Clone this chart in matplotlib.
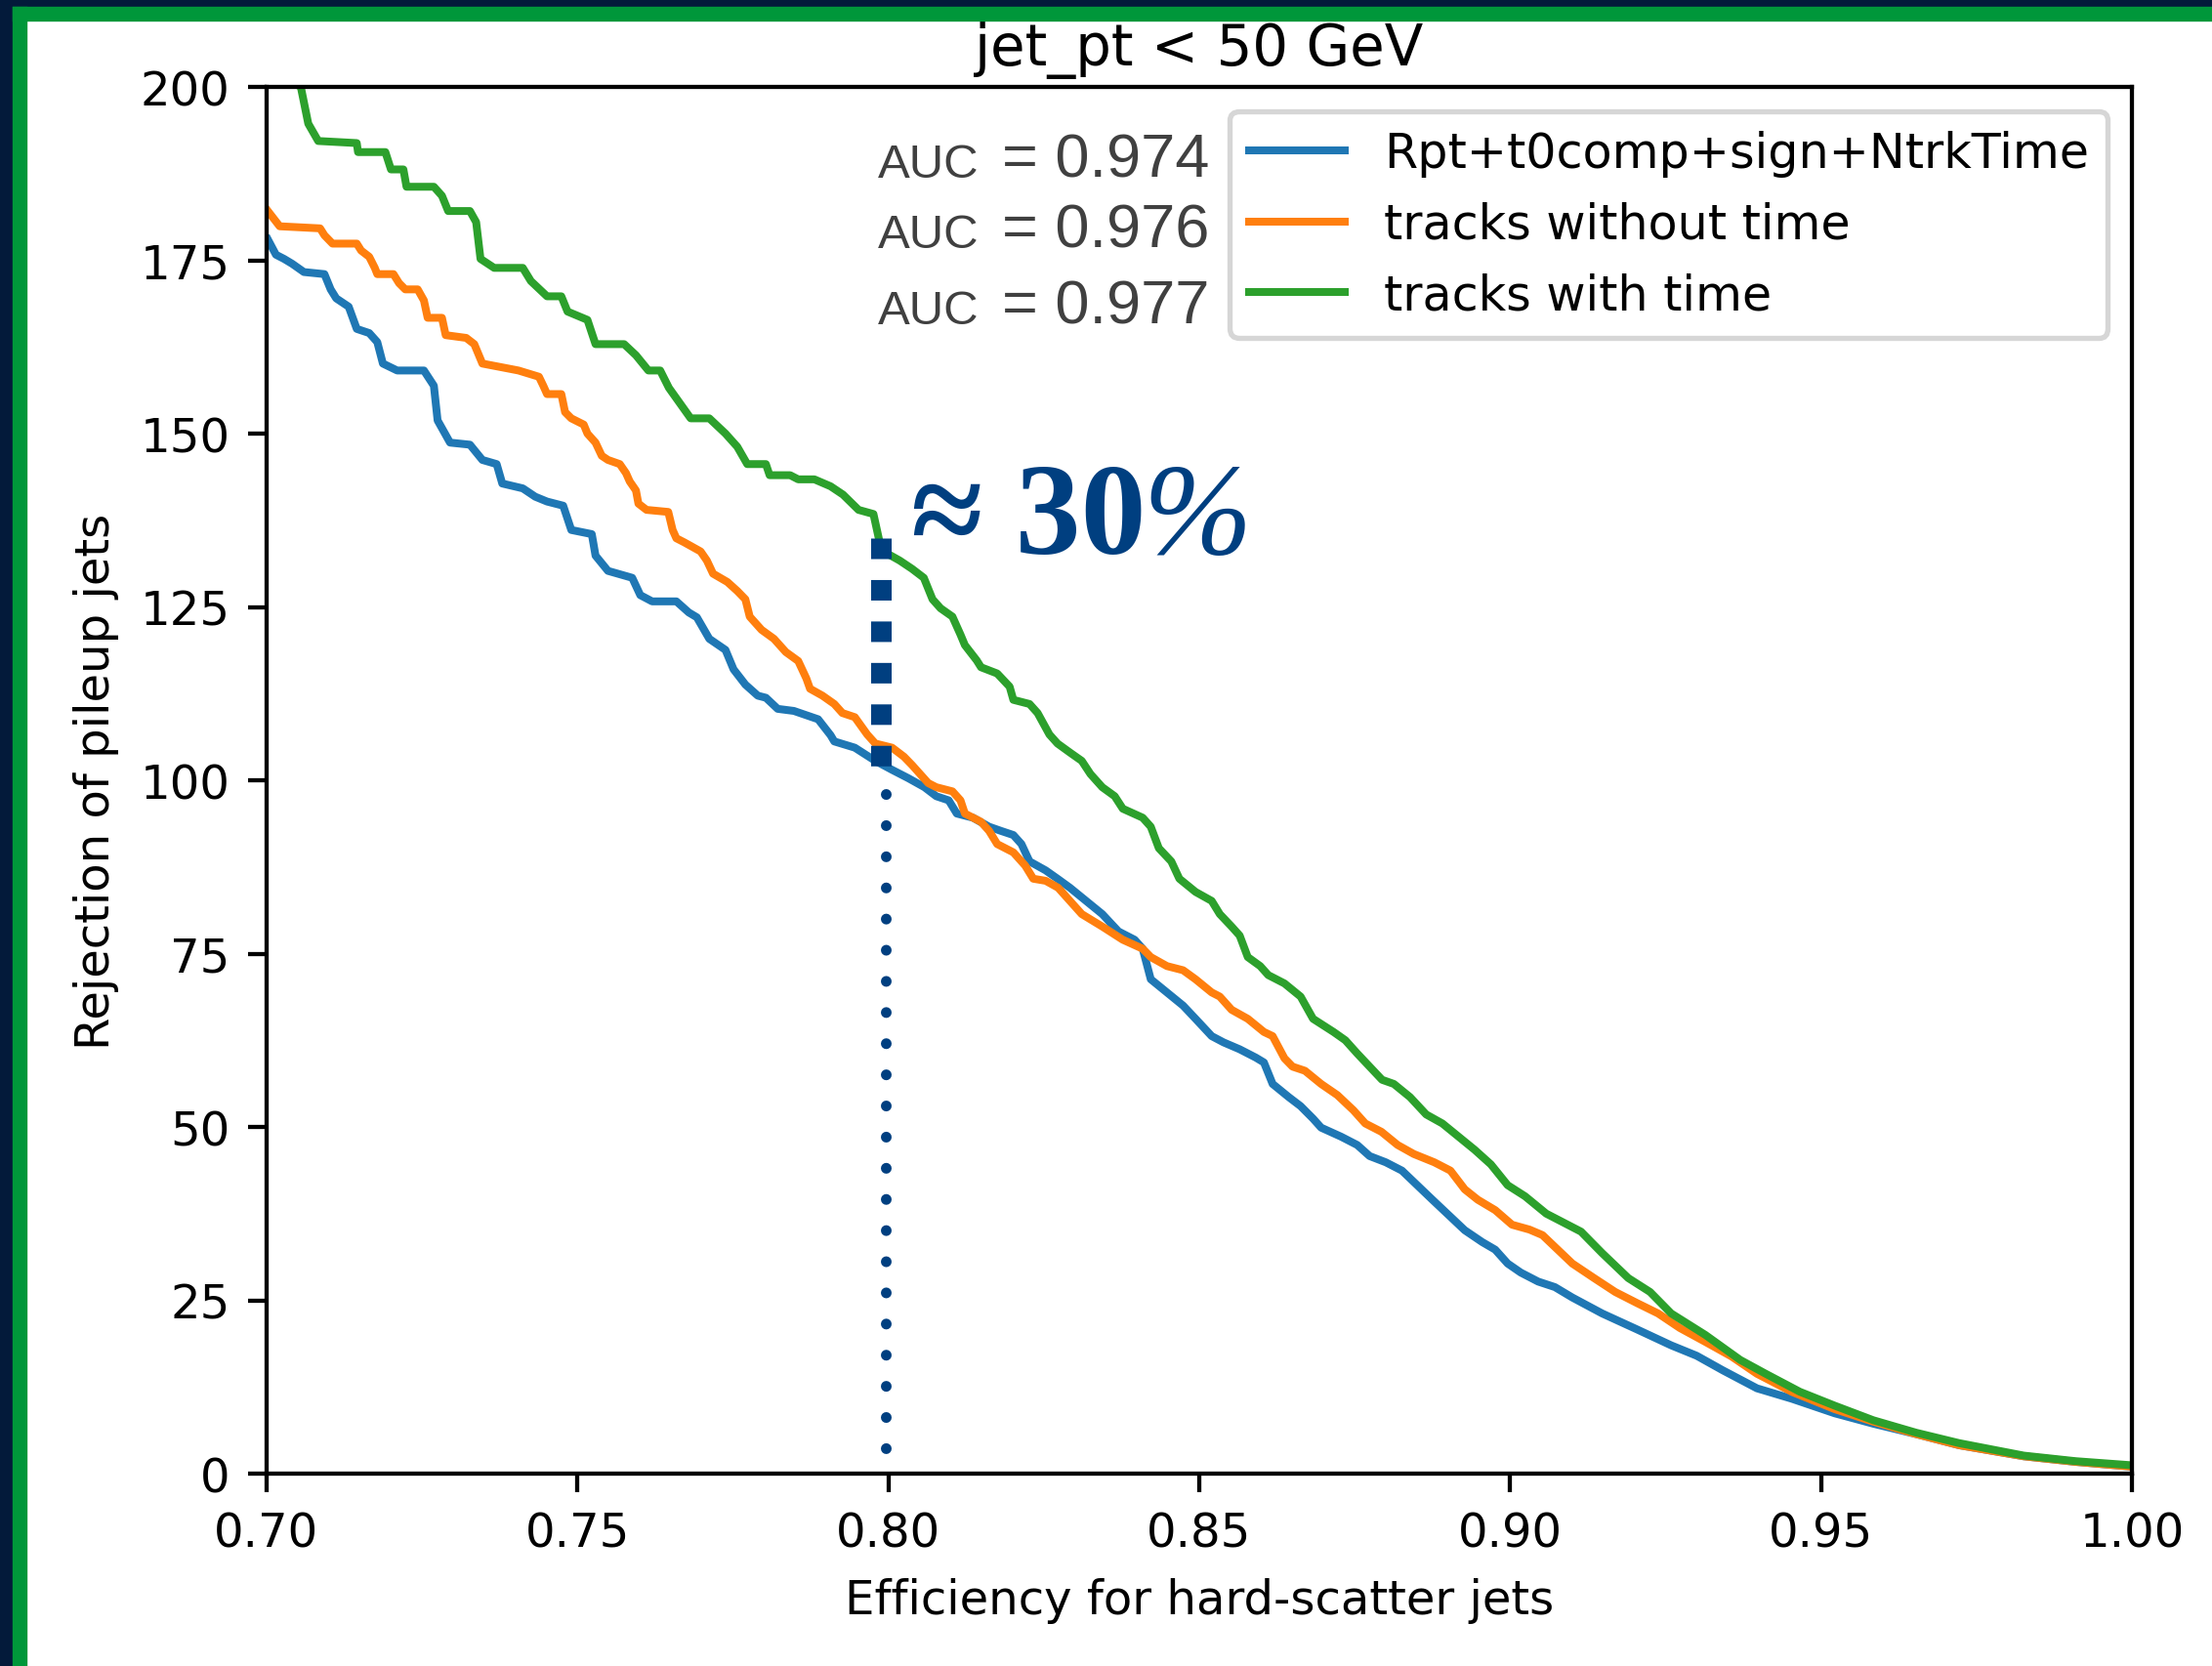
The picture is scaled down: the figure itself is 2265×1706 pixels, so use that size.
import matplotlib
matplotlib.use("Agg")
import matplotlib.pyplot as plt
from matplotlib.patches import Rectangle

# --- data ---
eff_blue = [0.7002, 0.7015, 0.7028, 0.7041, 0.7060, 0.7093, 0.7103, 0.7112, 0.7132, 0.7145,
            0.7165, 0.7178, 0.7187, 0.7210, 0.7253, 0.7269, 0.7275, 0.7295, 0.7327, 0.7347,
            0.7370, 0.7379, 0.7412, 0.7432, 0.7451, 0.7477, 0.7490, 0.7523, 0.7529, 0.7549,
            0.7588, 0.7601, 0.7620, 0.7659, 0.7679, 0.7692, 0.7712, 0.7738, 0.7751, 0.7770,
            0.7790, 0.7803, 0.7822, 0.7848, 0.7887, 0.7907, 0.7913, 0.7946, 0.7979, 0.8006,
            0.8032, 0.8058, 0.8077, 0.8097, 0.8110, 0.8136, 0.8162, 0.8181, 0.8201, 0.8214,
            0.8227, 0.8253, 0.8272, 0.8292, 0.8318, 0.8344, 0.8370, 0.8396, 0.8409, 0.8422,
            0.8448, 0.8474, 0.8494, 0.8520, 0.8539, 0.8565, 0.8591, 0.8604, 0.8618, 0.8644,
            0.8663, 0.8683, 0.8696, 0.8728, 0.8754, 0.8774, 0.8800, 0.8826, 0.8875, 0.8927,
            0.8955, 0.8976, 0.8996, 0.9017, 0.9045, 0.9072, 0.9100, 0.9148, 0.9204, 0.9259,
            0.9300, 0.9342, 0.9397, 0.9453, 0.9522, 0.9584, 0.9653, 0.9722, 0.9826, 0.9909,
            1.0000]
rej_blue = [178.0, 175.8, 175.2, 174.5, 173.3, 173.0, 170.8, 169.5, 168.3, 165.1,
            164.5, 163.2, 160.1, 159.1, 159.1, 156.9, 151.9, 148.7, 148.4, 146.2,
            145.6, 142.8, 142.1, 140.9, 140.2, 139.6, 136.1, 135.5, 132.4, 130.2,
            129.2, 126.7, 125.8, 125.8, 124.2, 123.5, 120.4, 118.8, 116.0, 113.8,
            112.2, 111.9, 110.3, 110.0, 108.8, 106.5, 105.6, 104.7, 102.8, 101.5,
            100.3, 99.0, 97.7, 97.1, 95.2, 94.6, 93.3, 92.7, 92.1, 90.8,
            88.3, 87.0, 85.8, 84.5, 82.6, 80.7, 78.2, 77.0, 75.7, 71.3,
            69.4, 67.5, 65.6, 63.1, 62.2, 61.2, 60.0, 59.3, 56.2, 54.3,
            53.0, 51.2, 49.9, 48.6, 47.4, 45.8, 44.9, 43.7, 39.5, 35.1,
            33.4, 32.3, 30.3, 29.0, 27.7, 26.9, 25.4, 23.1, 20.8, 18.5,
            17.0, 14.9, 12.3, 10.8, 8.7, 7.2, 5.7, 4.1, 2.5, 1.7,
            1.0]

eff_orange = [0.7002, 0.7021, 0.7086, 0.7093, 0.7106, 0.7145, 0.7152, 0.7165, 0.7174, 0.7178,
              0.7204, 0.7213, 0.7223, 0.7243, 0.7253, 0.7259, 0.7282, 0.7288, 0.7321, 0.7334,
              0.7347, 0.7405, 0.7438, 0.7445, 0.7451, 0.7474, 0.7480, 0.7490, 0.7510, 0.7516,
              0.7529, 0.7539, 0.7549, 0.7568, 0.7578, 0.7584, 0.7594, 0.7598, 0.7611, 0.7646,
              0.7653, 0.7659, 0.7672, 0.7698, 0.7708, 0.7718, 0.7741, 0.7757, 0.7770, 0.7777,
              0.7796, 0.7816, 0.7835, 0.7855, 0.7868, 0.7874, 0.7894, 0.7913, 0.7926, 0.7946,
              0.7966, 0.7979, 0.8006, 0.8025, 0.8038, 0.8064, 0.8077, 0.8103, 0.8116, 0.8123,
              0.8149, 0.8162, 0.8175, 0.8201, 0.8220, 0.8233, 0.8253, 0.8273, 0.8292, 0.8311,
              0.8344, 0.8377, 0.8409, 0.8422, 0.8448, 0.8474, 0.8494, 0.8520, 0.8533, 0.8552,
              0.8578, 0.8604, 0.8618, 0.8637, 0.8650, 0.8670, 0.8696, 0.8722, 0.8748, 0.8767,
              0.8793, 0.8819, 0.8845, 0.8878, 0.8904, 0.8927, 0.8948, 0.8976, 0.9003, 0.9031,
              0.9052, 0.9100, 0.9135, 0.9169, 0.9204, 0.9238, 0.9273, 0.9314, 0.9356, 0.9397,
              0.9453, 0.9522, 0.9584, 0.9653, 0.9722, 0.9826, 0.9909, 1.0000]
rej_orange = [182.1, 179.9, 179.6, 178.6, 177.4, 177.4, 176.4, 175.5, 173.9, 173.0,
              173.0, 171.7, 170.8, 170.8, 169.2, 166.7, 166.7, 164.2, 163.8, 162.9,
              160.1, 159.1, 158.2, 156.9, 155.7, 155.7, 153.1, 152.2, 151.3, 150.0,
              148.7, 146.8, 146.2, 145.6, 144.3, 143.1, 141.8, 139.9, 139.0, 138.7,
              136.1, 134.9, 134.3, 133.0, 131.7, 129.8, 128.6, 127.3, 126.1, 123.6,
              121.7, 120.4, 118.5, 117.2, 114.7, 113.2, 112.2, 111.0, 109.7, 109.1,
              106.6, 105.3, 104.7, 103.4, 102.2, 99.6, 99.0, 98.4, 97.1, 95.2,
              94.0, 92.7, 90.8, 89.6, 87.7, 85.8, 85.5, 84.5, 82.6, 80.7,
              78.9, 77.0, 75.7, 74.5, 73.2, 72.6, 71.3, 69.4, 68.8, 66.9,
              65.6, 63.7, 63.1, 59.9, 58.7, 58.1, 56.2, 54.6, 52.4, 50.5,
              49.3, 47.4, 46.1, 44.9, 43.7, 41.0, 39.5, 38.0, 35.9, 35.2,
              34.4, 30.3, 28.2, 26.2, 24.6, 23.1, 21.0, 19.0, 16.9, 14.4,
              11.8, 9.3, 7.5, 5.7, 4.1, 2.5, 1.7, 1.0]

eff_green = [0.7000, 0.7055, 0.7067, 0.7083, 0.7145, 0.7147, 0.7191, 0.7200, 0.7220, 0.7225,
             0.7269, 0.7282, 0.7292, 0.7327, 0.7337, 0.7344, 0.7366, 0.7412, 0.7425, 0.7451,
             0.7474, 0.7484, 0.7516, 0.7529, 0.7575, 0.7594, 0.7614, 0.7633, 0.7647, 0.7682,
             0.7712, 0.7738, 0.7757, 0.7773, 0.7803, 0.7809, 0.7842, 0.7855, 0.7881, 0.7907,
             0.7927, 0.7952, 0.7976, 0.7986, 0.7992, 0.8018, 0.8038, 0.8057, 0.8071, 0.8084,
             0.8103, 0.8116, 0.8123, 0.8142, 0.8149, 0.8175, 0.8195, 0.8201, 0.8227, 0.8240,
             0.8259, 0.8272, 0.8292, 0.8311, 0.8325, 0.8344, 0.8364, 0.8377, 0.8409, 0.8422,
             0.8435, 0.8455, 0.8468, 0.8494, 0.8520, 0.8533, 0.8552, 0.8565, 0.8578, 0.8598,
             0.8611, 0.8637, 0.8663, 0.8683, 0.8716, 0.8735, 0.8754, 0.8774, 0.8794, 0.8813,
             0.8839, 0.8865, 0.8891, 0.8917, 0.8943, 0.8969, 0.8996, 0.9024, 0.9058, 0.9114,
             0.9148, 0.9190, 0.9225, 0.9259, 0.9314, 0.9370, 0.9411, 0.9466, 0.9522, 0.9584,
             0.9653, 0.9722, 0.9826, 0.9909, 1.0000]
rej_green = [203.0, 200.0, 194.7, 192.2, 191.9, 190.6, 190.6, 188.1, 188.1, 185.6,
             185.6, 184.3, 182.1, 182.1, 180.5, 175.2, 173.9, 173.9, 172.0, 169.8,
             169.8, 167.6, 166.4, 162.9, 162.9, 161.3, 159.1, 159.1, 156.6, 152.2,
             152.2, 150.0, 148.1, 145.6, 145.6, 144.0, 144.0, 143.4, 143.4, 142.4,
             141.2, 139.0, 138.4, 134.3, 133.0, 131.7, 130.5, 129.2, 126.1, 124.8,
             123.6, 121.0, 119.5, 117.3, 116.3, 115.4, 113.5, 111.6, 111.0, 109.7,
             106.6, 105.3, 104.0, 102.8, 100.9, 99.0, 97.7, 95.9, 94.6, 93.3,
             90.2, 88.3, 85.8, 83.9, 82.6, 80.7, 78.9, 77.6, 74.5, 73.2,
             71.9, 70.7, 68.8, 65.6, 63.7, 62.5, 60.6, 58.7, 56.8, 56.2,
             54.3, 51.8, 50.5, 48.6, 46.7, 44.6, 41.6, 40.0, 37.5, 34.9,
             31.8, 28.2, 26.2, 23.1, 20.0, 16.4, 14.4, 11.8, 9.8, 7.7,
             5.9, 4.4, 2.6, 1.8, 1.2]

labels = ["Rpt+t0comp+sign+NtrkTime", "tracks without time", "tracks with time"]
auc_values = ["0.974", "0.976", "0.977"]
x_ticks = [0.70, 0.75, 0.80, 0.85, 0.90, 0.95, 1.00]
y_ticks = [0, 25, 50, 75, 100, 125, 150, 175, 200]

W, H, DPI = 2265, 1707, 385
NAVY = "#003f80"

plt.rcParams["font.size"] = 9.0

fig = plt.figure(figsize=(W / DPI, H / DPI), dpi=DPI)
ax = fig.add_axes([273 / W, 1 - 1510 / H, 1910 / W, 1420 / H])

ax.plot(eff_blue, rej_blue, color="tab:blue", label=labels[0])
ax.plot(eff_orange, rej_orange, color="tab:orange", label=labels[1])
ax.plot(eff_green, rej_green, color="tab:green", label=labels[2])

ax.set_xlim(0.70, 1.00)
ax.set_ylim(0, 200)
ax.set_xticks(x_ticks)
ax.set_xticklabels(["%.2f" % t for t in x_ticks])
ax.set_yticks(y_ticks)
ax.set_xlabel("Efficiency for hard-scatter jets")
ax.set_ylabel("Rejection of pileup jets")
ax.set_title("jet_pt < 50 GeV", fontsize=10.8, pad=4.3)
ax.legend(loc="upper right", fontsize=9.2)

# annotations on the slide
ax.plot([0.7996, 0.7996], [98, 3], color=NAVY, lw=2.05,
        linestyle=(0, (0.01, 2.9)), dash_capstyle="round", clip_on=False)
ax.plot([0.7988, 0.7988], [135.0, 102.0], color=NAVY, lw=3.93,
        linestyle=(0, (1, 1.02)), dash_capstyle="butt", clip_on=False)

fig.text(933 / W, 1 - 567 / H, "\u2248 30", fontsize=25, fontweight="bold",
         family="Liberation Serif", color=NAVY, va="baseline")
fig.text(1170 / W, 1 - 567 / H, "%", fontsize=25, fontstyle="italic",
         family="Liberation Serif", color=NAVY, va="baseline")

for auc, base in zip(auc_values, [182, 254, 332]):
    fig.text(899 / W, 1 - base / H, "AUC", fontsize=9.2, family="Liberation Sans",
             color="#404040", va="baseline")
    fig.text(1026 / W, 1 - base / H, "= " + auc, fontsize=11.8, family="Liberation Sans",
             color="#404040", va="baseline")

# slide frame
for (x0, y0, w, h, c) in [(0, 0, 15, H, "#031a3a"), (0, 0, W, 10, "#031a3a"),
                          (15, 10, 10, H - 10, "#00973a"), (15, 10, W - 15, 10, "#00973a")]:
    fig.patches.append(Rectangle((x0 / W, 1 - (y0 + h) / H), w / W, h / H,
                                 transform=fig.transFigure, color=c, zorder=10))

fig.savefig("out.png", dpi=DPI)
